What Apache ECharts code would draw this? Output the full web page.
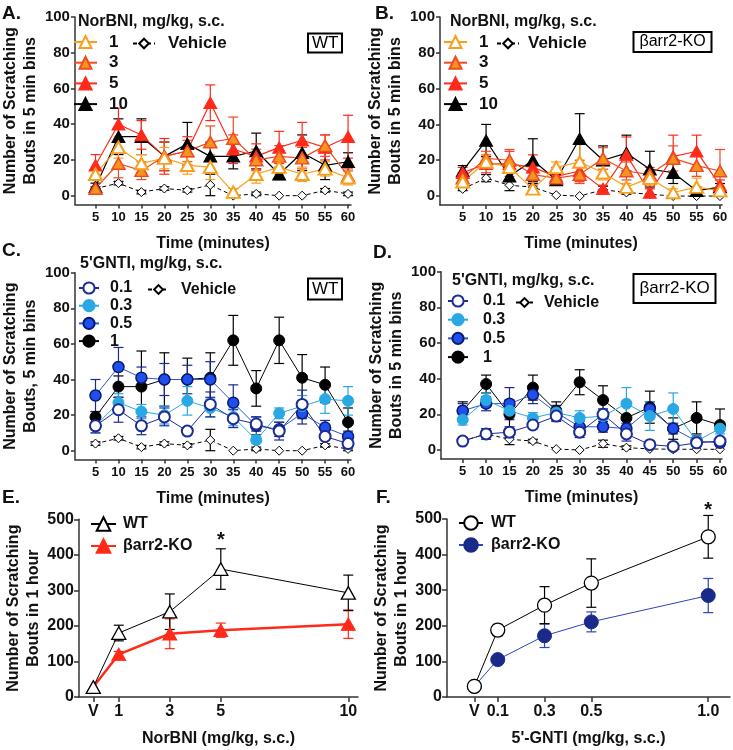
<!DOCTYPE html>
<html><head><meta charset="utf-8">
<script src="https://cdn.jsdelivr.net/npm/echarts@6/dist/echarts.min.js"></script>
<style>html,body{margin:0;padding:0;background:#fff}#c{width:733px;height:750px}</style>
</head><body><div id="c"></div>
<script>
// ---------- DATA ----------
const minutes = [5,10,15,20,25,30,35,40,45,50,55,60];
const yTicksBins = [0,20,40,60,80,100];
// Panel A: NorBNI, WT
const aDose1  = [12,27,18,21,17,16,2,12,16,12,15,10];
const aDose1E = [3,6,5,6,5,7,2,5,4,4,4,4];
const aDose3  = [4,18,14,22,25,30,32,20,22,21,28,11];
const aDose3E = [1,8,5,8,6,9,12,6,6,6,6,4];
const aDose5  = [17,40,34,22,25,52,26,22,27,31,27,33];
const aDose5E = [6,9,8,10,8,10,8,7,9,10,7,12];
const aDose10 = [5,33,33,22,29,22,22,25,12,24,17,19];
const aDose10E= [2,10,10,8,12,8,7,10,3,10,8,5];
const aVeh    = [4,7,2,4,3,6,0,1,0,0,3,1];
const aVehE   = [1,1,1,1,1,6,0,1,0,0,1,1];
// Panel B: NorBNI, barr2-KO
const bDose1  = [8,19,16,4,16,19,13,5,10,2,5,3];
const bDose1E = [2,4,3,2,3,10,4,2,4,2,5,2];
const bDose3  = [10,21,20,12,10,12,21,14,12,21,17,14];
const bDose3E = [3,4,6,6,4,5,6,5,4,7,6,12];
const bDose5  = [13,18,18,16,11,14,4,23,2,22,25,6];
const bDose5E = [3,5,7,7,5,6,2,10,2,12,9,3];
const bDose10 = [14,31,11,20,9,32,20,24,15,13,3,5];
const bDose10E= [3,9,2,12,3,14,8,10,10,6,2,2];
const bVeh    = [4,10,6,5,0.5,0,3.5,2,1,0,0,0];
const bVehE   = [1,2,3,2,0,0,2,1,0,0,0,0];
// Panel C: 5'GNTI, WT
const cDose01  = [14,23,14,19,11,26,18,15,11,26,8,4];
const cDose01E = [4,7,5,5,2,7,5,4,5,8,4,2];
const cDose03  = [14,27,22,20,28,24,19,6,21,25,29,28];
const cDose03E = [4,5,4,5,8,5,5,2,3,6,8,8];
const cDose05  = [31,47,41,40,40,40,27,14,12,21,13,8];
const cDose05E = [9,11,6,9,8,10,10,5,4,6,4,3];
const cDose1   = [19,36,36,40,40,41,62,35,62,41,37,16];
const cDose1E  = [3,6,20,15,12,14,14,10,13,13,10,8];
const cVeh     = [4,7,2,4,3,6,0,1,0,0,3,1];
const cVehE    = [1,1,1,1,1,6,0,1,0,0,1,1];
// Panel D: 5'GNTI, barr2-KO
const dDose01  = [5,9,10,14,19,10,20,9,3,2,4,5];
const dDose01E = [1,3,3,2,3,3,3,4,1,1,1,1];
const dDose03  = [17,28,22,18,21,18,19,26,19,23,5,12];
const dDose03E = [3,4,4,3,3,4,4,9,8,9,3,3];
const dDose05  = [22,26,26,31,21,13,13,12,23,12,5,4];
const dDose05E = [4,4,9,5,4,3,3,3,4,3,2,2];
const dDose1   = [22,37,20,35,22,38,28,18,24,12,18,14];
const dDose1E  = [5,5,8,7,5,7,8,8,9,6,9,9];
const dVeh     = [5,9,6,5,0.5,0,3.5,1.3,0.6,0.4,0.4,0.4];
const dVehE    = [1,2,3,1,0,0,2,1,0,0,0,0];
// Panel E: total, NorBNI
const eDoses = [0,1,3,5,10];
const eDoseLabels = ['V','1','3','5','10'];
const eWT    = [28,180,240,360,293];
const eWTE   = [0,22,50,57,50];
const eKO    = [28,120,178,188,205];
const eKOE   = [0,8,42,20,40];
// Panel F: total, 5'GNTI
const fDoses = [0,0.1,0.3,0.5,1.0];
const fDoseLabels = ['V','0.1','0.3','0.5','1.0'];
const fWT    = [30,188,258,320,450];
const fWTE   = [0,16,52,68,60];
const fKO    = [30,105,172,211,285];
const fKOE   = [0,5,33,28,48];
const yTicksHour = [0,100,200,300,400,500];

// ---------- HELPERS ----------
const FONT = "'Liberation Sans', Arial, sans-serif";
const AX = '#333';
function pts(xs, ys){ return xs.map((x,i)=>[x, ys[i]]); }
function errs(xs, ys, es){ return xs.map((x,i)=>[x, ys[i]-es[i], ys[i]+es[i]]); }
function mkLine(name, gi, xs, ys, o){
  return {type:'line', name, xAxisIndex:gi, yAxisIndex:gi, data:pts(xs,ys),
    symbol:o.symbol, symbolSize:o.size, showSymbol:true, showAllSymbol:true,
    itemStyle:{color:o.fill, borderColor:o.border, borderWidth:o.bw},
    lineStyle:{color:o.line, width:o.lw, type:o.dash?[4,3]:'solid'},
    z:3, emphasis:{disabled:true}, silent:true};
}
function mkErr(name, gi, xs, ys, es, color, cap, lw){
  return {type:'custom', name, xAxisIndex:gi, yAxisIndex:gi, data:errs(xs,ys,es),
    encode:{x:0, y:[1,2]}, z:2, silent:true,
    renderItem:(params, api)=>{
      const x=api.value(0), lo=api.value(1), hi=api.value(2);
      if(!(hi-lo>0.05)) return {type:'group', children:[]};
      const t=api.coord([x,hi]), b=api.coord([x,lo]);
      const st={stroke:color, lineWidth:lw};
      return {type:'group', children:[
        {type:'line', shape:{x1:t[0],y1:t[1],x2:b[0],y2:b[1]}, style:st},
        {type:'line', shape:{x1:t[0]-cap,y1:t[1],x2:t[0]+cap,y2:t[1]}, style:st},
        {type:'line', shape:{x1:b[0]-cap,y1:b[1],x2:b[0]+cap,y2:b[1]}, style:st}
      ]};
    }};
}
const S = {
  n1:{symbol:'triangle', size:[13,11.5], fill:'#fff', border:'#F8A01C', bw:2, line:'#F8A01C', lw:1.2},
  n3:{symbol:'triangle', size:[13,11.5], fill:'#F7941D', border:'#EF4A23', bw:1.5, line:'#EF4A23', lw:1.2},
  n5:{symbol:'triangle', size:[13,11.5], fill:'#FF2A1A', border:'#FF2A1A', bw:1, line:'#FF2A1A', lw:1.2},
  n10:{symbol:'triangle', size:[13,11.5], fill:'#000', border:'#000', bw:1, line:'#000', lw:1.2},
  veh:{symbol:'diamond', size:9, fill:'#fff', border:'#000', bw:1, line:'#000', lw:1, dash:true},
  g01:{symbol:'circle', size:11, fill:'#fff', border:'#1C2B98', bw:2, line:'#1C2B98', lw:1},
  g03:{symbol:'circle', size:11, fill:'#2AA8E4', border:'#2AA8E4', bw:1, line:'#2AA8E4', lw:1},
  g05:{symbol:'circle', size:11, fill:'#1F4FEF', border:'#0B1A6E', bw:1.5, line:'#2A58CF', lw:1},
  g1:{symbol:'circle', size:11, fill:'#000', border:'#000', bw:1, line:'#000', lw:1},
  eWT:{symbol:'triangle', size:[14,12.5], fill:'#fff', border:'#000', bw:1.3, line:'#000', lw:1},
  eKO:{symbol:'triangle', size:[14,12.5], fill:'#FF2A1A', border:'#FF2A1A', bw:1, line:'#FF2A1A', lw:2.5},
  fWT:{symbol:'circle', size:14, fill:'#fff', border:'#000', bw:1.3, line:'#000', lw:1},
  fKO:{symbol:'circle', size:14, fill:'#1A2A8A', border:'#1A2A8A', bw:1, line:'#2D45B8', lw:1}
};
const labelMap = {A1:'1',A3:'3',A5:'5',A10:'10',AV:'Vehicle',B1:'1',B3:'3',B5:'5',B10:'10',BV:'Vehicle',
  C01:'0.1',C03:'0.3',C05:'0.5',C1:'1',CV:'Vehicle',D01:'0.1',D03:'0.3',D05:'0.5',D1:'1',DV:'Vehicle',
  EWT:'WT',EKO:'βarr2-KO',FWT:'WT',FKO:'βarr2-KO'};

const grids = [
  {left:69, top:17, width:282, height:187.6},
  {left:440, top:17, width:282, height:188},
  {left:69, top:272.7, width:282, height:186.9},
  {left:441, top:271.7, width:281, height:187.2},
  {left:79, top:519.3, width:279, height:179},
  {left:447, top:519, width:283, height:179}
];
const tickLbl = {fontSize:13, fontWeight:'bold', color:'#111', fontFamily:FONT};
const nameTS = {fontSize:16, fontWeight:'bold', color:'#111', fontFamily:FONT, lineHeight:20};
function timeX(gi, min, max){
  return {type:'value', gridIndex:gi, min, max,
    axisLine:{onZero:false, lineStyle:{color:AX, width:1.5}},
    axisTick:{customValues:minutes, length:4, lineStyle:{color:AX, width:1.5}},
    axisLabel:Object.assign({customValues:minutes, margin:6}, tickLbl),
    splitLine:{show:false}, name:'Time (minutes)', nameLocation:'middle', nameGap:29, nameTextStyle:nameTS};
}
function binsY(gi, name, gap){
  return {type:'value', gridIndex:gi, min:-5, max:100,
    axisLine:{onZero:false, lineStyle:{color:AX, width:1.5}},
    axisTick:{customValues:yTicksBins, length:4, lineStyle:{color:AX, width:1.5}},
    axisLabel:Object.assign({customValues:yTicksBins, margin:5}, tickLbl, {fontSize:15}),
    splitLine:{show:false}, name, nameLocation:'middle', nameRotate:90, nameGap:gap, nameTextStyle:nameTS};
}
function doseX(gi, min, max, vals, labels, name){
  return {type:'value', gridIndex:gi, min, max,
    axisLine:{onZero:false, lineStyle:{color:AX, width:1.5}},
    axisTick:{customValues:vals, length:5, lineStyle:{color:AX, width:1.5}},
    axisLabel:Object.assign({customValues:vals, margin:7, formatter:(v)=>labels[vals.indexOf(v)] ?? ''}, tickLbl, {fontSize:16}),
    splitLine:{show:false}, name, nameLocation:'middle', nameGap:32, nameTextStyle:nameTS};
}
function hourY(gi, gap){
  return {type:'value', gridIndex:gi, min:0, max:500, interval:100,
    axisLine:{onZero:false, lineStyle:{color:AX, width:1.5}},
    axisTick:{length:5, lineStyle:{color:AX, width:1.5}},
    axisLabel:Object.assign({margin:5}, tickLbl, {fontSize:16}),
    splitLine:{show:false}, name:'Number of Scratching\nBouts in 1 hour', nameLocation:'middle', nameRotate:90, nameGap:gap, nameTextStyle:nameTS};
}

const series = [];
function addSet(prefix, gi, xs, list){
  list.forEach(([key, ys, es, st, errColor])=>{
    series.push(mkErr(prefix+key+'err', gi, xs, ys, es, errColor, 5, 1.2));
  });
  list.forEach(([key, ys, es, st])=>{
    series.push(mkLine(prefix+key, gi, xs, ys, st));
  });
}
addSet('A', 0, minutes, [
  ['V', aVeh, aVehE, S.veh, '#000'], ['10', aDose10, aDose10E, S.n10, '#000'],
  ['5', aDose5, aDose5E, S.n5, '#FF2A1A'], ['3', aDose3, aDose3E, S.n3, '#EF4A23'],
  ['1', aDose1, aDose1E, S.n1, '#F8A01C']]);
addSet('B', 1, minutes, [
  ['V', bVeh, bVehE, S.veh, '#000'], ['10', bDose10, bDose10E, S.n10, '#000'],
  ['5', bDose5, bDose5E, S.n5, '#FF2A1A'], ['3', bDose3, bDose3E, S.n3, '#EF4A23'],
  ['1', bDose1, bDose1E, S.n1, '#F8A01C']]);
addSet('C', 2, minutes, [
  ['V', cVeh, cVehE, S.veh, '#000'], ['1', cDose1, cDose1E, S.g1, '#000'],
  ['05', cDose05, cDose05E, S.g05, '#1B2A8F'], ['03', cDose03, cDose03E, S.g03, '#2AA8E4'],
  ['01', cDose01, cDose01E, S.g01, '#1C2B98']]);
addSet('D', 3, minutes, [
  ['V', dVeh, dVehE, S.veh, '#000'], ['1', dDose1, dDose1E, S.g1, '#000'],
  ['05', dDose05, dDose05E, S.g05, '#1B2A8F'], ['03', dDose03, dDose03E, S.g03, '#2AA8E4'],
  ['01', dDose01, dDose01E, S.g01, '#1C2B98']]);
addSet('E', 4, eDoses, [
  ['KO', eKO, eKOE, S.eKO, '#FF2A1A'], ['WT', eWT, eWTE, S.eWT, '#000']]);
addSet('F', 5, fDoses, [
  ['KO', fKO, fKOE, S.fKO, '#2D45B8'], ['WT', fWT, fWTE, S.fWT, '#000']]);

const legTS = (pad, fs, lh)=>({fontSize:fs, fontWeight:'bold', color:'#111', fontFamily:FONT, lineHeight:lh, padding:[0,0,0,pad]});
function leg(data, left, top, iw, ih, gap, pad, fs){
  return {data, left, top, orient:'vertical', itemWidth:iw, itemHeight:ih, itemGap:gap, padding:0,
    selectedMode:false, formatter:(n)=>labelMap[n], textStyle:legTS(pad, fs, ih)};
}
const legends = [
  leg(['A1','A3','A5','A10'], 73, 33.5, 23, 15, 3.7, 7, 17),
  leg(['AV'], 132, 35, 22, 12, 0, 8, 17),
  leg(['B1','B3','B5','B10'], 443, 33.5, 23, 15, 3.7, 7, 17),
  leg(['BV'], 496, 35, 22, 12, 0, 4, 17),
  leg(['C01','C03','C05','C1'], 78, 280, 20, 14, 1.7, 6, 16),
  leg(['CV'], 147, 281.5, 21, 11, 0, 7, 16),
  leg(['D01','D03','D05','D1'], 447, 293, 20, 14, 2.7, 10, 16),
  leg(['DV'], 515, 294.5, 17, 11, 0, 6, 16),
  leg(['EWT','EKO'], 90, 515.5, 25, 17, 5, 2, 16),
  leg(['FWT','FKO'], 458, 514.5, 24, 17, 5, 3, 16)
];

function ttl(text, left, top, fs, extra){
  return Object.assign({text, left, top, padding:0, textStyle:{fontSize:fs, fontWeight:'bold', color:'#111', fontFamily:FONT, lineHeight:fs+2}}, extra||{});
}
function box(text, left, top, fs, pad){
  return {text, left, top, padding:pad, borderColor:'#000', borderWidth:2,
    textStyle:{fontSize:fs, fontWeight:'normal', color:'#000', fontFamily:FONT, lineHeight:fs}};
}
const titles = [
  ttl('A.', 2, 3, 19), ttl('B.', 375, 3, 19), ttl('C.', 2, 240, 19), ttl('D.', 373, 242, 19),
  ttl('E.', 2, 487, 19), ttl('F.', 376, 487, 19),
  ttl('NorBNI, mg/kg, s.c.', 78, 13, 16), ttl('NorBNI, mg/kg, s.c.', 450, 13, 16),
  ttl("5'GNTI, mg/kg, s.c.", 80, 255, 16), ttl("5'GNTI, mg/kg, s.c.", 452, 272, 16),
  box('WT', 308, 33, 17, [1.5,4]), box('βarr2-KO', 633, 32, 16, [2,6.5]),
  box('WT', 308, 278, 17, [2.5,4]), box('βarr2-KO', 633, 274, 17, [6,6.5])
];

const chart = echarts.init(document.getElementById('c'), null, {renderer:'canvas'});
chart.setOption({
  animation:false, backgroundColor:'#fff', textStyle:{fontFamily:FONT},
  title:titles, legend:legends, grid:grids,
  xAxis:[timeX(0,0.52,60.64), timeX(1,0.15,60.43), timeX(2,0.52,60.64), timeX(3,0.36,60.43),
         doseX(4,-0.56,10.38,eDoses,eDoseLabels,'NorBNI (mg/kg, s.c.)'),
         doseX(5,-0.117,1.093,fDoses,fDoseLabels,"5'-GNTI (mg/kg, s.c.)")],
  yAxis:[binsY(0,'Number of Scratching\nBouts in 5 min bins',23), binsY(1,'Number of Scratching\nBouts in 5 min bins',22),
         binsY(2,'Number of Scratching\nBouts, 5 min bins',23), binsY(3,'Number of Scratching\nBouts in 5 min bins',23),
         hourY(4,34), hourY(5,32)],
  series
});
// significance asterisks above the error bars of the marked points
const pE = chart.convertToPixel({xAxisIndex:4, yAxisIndex:4}, [eDoses[3], eWT[3]+eWTE[3]]);
const pF = chart.convertToPixel({xAxisIndex:5, yAxisIndex:5}, [fDoses[4], fWT[4]+fWTE[4]]);
const starStyle = {text:'*', fontSize:20, fontWeight:'bold', fill:'#111', fontFamily:FONT, textAlign:'center', textVerticalAlign:'top'};
chart.setOption({graphic:[
  {type:'text', x:pE[0], y:pE[1]-18, style:starStyle},
  {type:'text', x:pF[0], y:pF[1]-15, style:starStyle}
]});
</script></body></html>
